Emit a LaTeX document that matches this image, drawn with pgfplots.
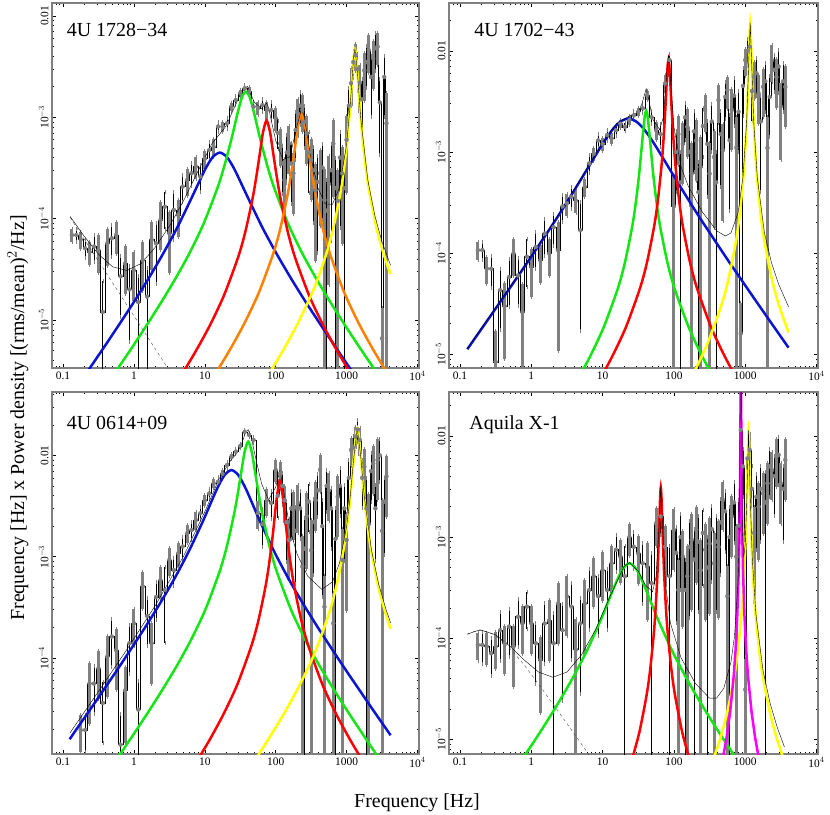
\documentclass[border=0pt]{standalone}
\usepackage{pgfplots}
\pgfplotsset{compat=1.18}
\usepackage{pgfplotstable}
\usepackage{fontspec}
\setmainfont{Liberation Serif}

\definecolor{cblue}{RGB}{10,20,210}
\definecolor{cgreen}{RGB}{20,230,20}
\definecolor{cred}{RGB}{255,0,0}
\definecolor{corange}{RGB}{255,128,0}
\definecolor{cyellow}{RGB}{255,255,0}
\definecolor{cmag}{RGB}{255,0,255}
\definecolor{barg}{RGB}{128,128,128}

% power spectra: bin centre, nu*P, relative error
\pgfplotstableread{
x y e
0.1334 6.9e-5 0.15
0.1540 6.9e-5 0.15
0.1778 6.2e-5 0.2
0.2054 5.1e-5 0.2
0.2371 4.7e-5 0.25
0.2738 5.3e-5 0.3
0.3162 4.9e-5 0.4
0.3652 1.2e-5 0.999
0.4217 5.7e-5 0.4
0.4870 6.4e-5 0.35
0.5623 6.9e-5 0.35
0.6494 2.7e-5 0.6
0.7499 3.6e-5 0.5
0.8660 2.0e-5 0.7
1.000 3.1e-5 0.5
1.155 1.5e-5 0.8
1.334 3.9e-5 0.5
1.540 1.7e-5 0.9
1.778 6.2e-5 0.5
2.054 5.7e-5 0.6
2.371 9.7e-5 0.5
2.738 1.31e-4 0.4
3.162 7.2e-5 0.6
3.652 1.22e-4 0.5
4.217 1.09e-4 0.4
4.870 2.07e-4 0.3
5.623 2.4e-4 0.3
6.494 2.8e-4 0.25
7.499 3.26e-4 0.25
8.660 2.6e-4 0.3
10.00 3.9e-4 0.2
11.55 4.75e-4 0.2
13.34 5.1e-4 0.2
15.40 8.1e-4 0.12
17.78 8.1e-4 0.12
20.54 8.7e-4 0.12
23.71 1.27e-3 0.1
27.38 1.48e-3 0.1
31.62 1.73e-3 0.08
36.52 1.93e-3 0.08
42.17 1.79e-3 0.1
48.70 1.27e-3 0.12
56.23 1.23e-3 0.15
64.94 1.32e-3 0.15
74.99 1.18e-3 0.2
86.60 1.18e-3 0.2
100.0 9.8e-4 0.25
107.5 7.0e-4 0.3
115.5 5.5e-4 0.4
124.1 3.5e-4 0.5
133.4 2.4e-4 0.6
143.3 4.5e-4 0.5
154.0 5.5e-4 0.5
165.5 3.5e-4 0.6
177.8 2.8e-4 0.6
191.1 7.5e-4 0.5
205.4 1.09e-3 0.4
220.7 1.3e-3 0.35
237.1 1.18e-3 0.4
254.8 9.0e-4 0.45
273.8 6.9e-4 0.5
294.2 4.5e-4 0.6
316.2 3.8e-4 0.6
339.8 3.0e-4 0.7
365.2 1.9e-4 0.8
392.4 2.3e-4 0.8
421.7 2.8e-4 0.7
453.2 3.2e-4 0.7
487.0 1.53e-4 0.999
523.3 1.2e-4 0.999
562.3 2.2e-4 0.9
604.3 3.0e-4 0.8
649.4 5.5e-4 0.7
697.8 2.0e-4 0.999
749.9 1.5e-4 0.999
805.9 4.0e-4 0.8
866.0 2.8e-4 0.8
930.6 2.0e-4 0.999
1000 6.0e-4 0.7
1075 1.3e-3 0.5
1155 2.17e-3 0.4
1241 3.5e-3 0.3
1334 4.1e-3 0.3
1433 3.0e-3 0.4
1540 2.2e-3 0.5
1655 1.5e-3 0.6
1778 2.9e-3 0.5
1911 3.5e-3 0.45
2054 4.6e-3 0.4
2207 2.5e-3 0.6
2371 3.8e-3 0.5
2548 4.8e-3 0.4
2738 5.0e-3 0.35
2942 1.4e-3 0.7
3162 6.6e-6 0.999
3398 2.5e-3 0.6
3652 8.7e-4 0.999
}\dA

\pgfplotstableread{
x y e
0.1778 1.07e-4 0.2
0.2054 1.07e-4 0.2
0.2371 7.0e-5 0.3
0.2738 7.0e-5 0.35
0.3162 8.4e-6 0.999
0.3652 4.3e-5 0.6
0.4217 3.0e-5 0.7
0.4870 5.8e-5 0.5
0.5623 9.9e-5 0.4
0.6494 6.0e-5 0.5
0.7499 2.6e-5 0.9
0.8660 9.2e-5 0.5
1.000 7.3e-5 0.5
1.155 1.15e-4 0.4
1.334 8.5e-5 0.4
1.540 1.56e-4 0.4
1.778 9.9e-5 0.4
2.054 1.8e-4 0.35
2.371 1.07e-4 0.9
2.738 2.9e-4 0.3
3.162 3.1e-4 0.25
3.652 3.6e-4 0.25
4.217 3.3e-4 0.25
4.870 1.68e-4 0.9
5.623 4.5e-4 0.2
6.494 7.7e-4 0.2
7.499 9.6e-4 0.15
8.660 1.3e-3 0.15
10.00 1.2e-3 0.15
11.55 1.47e-3 0.12
13.34 1.36e-3 0.12
15.40 1.64e-3 0.12
17.78 1.9e-3 0.1
20.54 1.77e-3 0.1
23.71 2.06e-3 0.1
27.38 2.3e-3 0.1
31.62 2.5e-3 0.1
36.52 2.7e-3 0.1
42.17 3.64e-3 0.1
48.70 2.2e-3 0.15
56.23 1.64e-3 0.2
64.94 1.5e-3 0.25
74.99 4.75e-3 0.2
86.60 8.1e-3 0.15
100.0 2.9e-4 0.999
107.5 1.0e-3 0.6
115.5 1.5e-3 0.5
124.1 5.0e-4 0.999
133.4 1.2e-3 0.6
143.3 2.2e-3 0.4
154.0 1.77e-3 0.5
165.5 1.0e-3 0.7
177.8 6.1e-4 0.999
191.1 1.6e-3 0.6
205.4 1.3e-3 0.6
220.7 4.0e-4 0.999
237.1 7.1e-4 0.999
254.8 1.8e-3 0.5
273.8 2.6e-3 0.4
294.2 1.2e-3 0.7
316.2 6.1e-4 0.999
339.8 2.0e-3 0.5
365.2 8.9e-4 0.8
392.4 5.0e-4 0.999
421.7 3.25e-3 0.4
453.2 1.5e-3 0.7
487.0 1.04e-3 0.8
523.3 3.5e-3 0.4
562.3 4.1e-3 0.35
604.3 1.3e-3 0.8
649.4 2.6e-3 0.6
697.8 3.6e-3 0.5
749.9 1.1e-3 0.999
805.9 2.5e-3 0.6
866.0 1.6e-5 0.999
930.6 4.5e-3 0.5
1000 8.1e-3 0.3
1075 1.0e-2 0.3
1155 1.1e-2 0.25
1241 4.0e-3 0.5
1334 5.5e-3 0.4
1433 6.0e-3 0.4
1540 3.8e-3 0.5
1655 2.0e-3 0.8
1778 4.4e-3 0.5
1911 5.0e-3 0.5
2054 1.1e-3 0.999
2207 3.5e-3 0.6
2371 8.1e-3 0.4
2548 6.5e-3 0.4
2738 5.5e-3 0.5
2942 7.0e-3 0.45
3162 2.8e-3 0.7
3398 5.0e-3 0.5
3652 4.4e-3 0.6
}\dB

\pgfplotstableread{
x y e
0.1778 1.95e-5 0.4
0.2054 1.95e-5 0.4
0.2371 5.6e-5 0.6
0.2738 5.6e-5 0.5
0.3162 7.9e-5 0.5
0.3652 3.6e-5 0.6
0.4217 1.03e-4 0.6
0.4870 1.63e-4 0.5
0.5623 1.2e-4 0.6
0.6494 1.4e-5 0.999
0.7499 4.8e-5 0.7
0.8660 1.4e-4 0.5
1.000 2.2e-4 0.4
1.155 3.1e-5 0.9
1.334 5.1e-4 0.4
1.540 2.6e-4 0.5
1.778 1.4e-4 0.6
2.054 4.0e-4 0.4
2.371 5.9e-4 0.35
2.738 4.7e-4 0.7
3.162 9.3e-4 0.3
3.652 7.4e-4 0.3
4.217 1.08e-3 0.25
4.870 1.26e-3 0.25
5.623 1.7e-3 0.2
6.494 1.83e-3 0.2
7.499 2.3e-3 0.2
8.660 2.68e-3 0.15
10.00 3.6e-3 0.12
11.55 4.2e-3 0.12
13.34 5.3e-3 0.1
15.40 5.5e-3 0.1
17.78 6.6e-3 0.08
20.54 8.0e-3 0.08
23.71 9.7e-3 0.06
27.38 1.09e-2 0.06
31.62 1.24e-2 0.05
36.52 1.71e-2 0.05
42.17 1.59e-2 0.05
48.70 1.42e-2 0.06
56.23 2.7e-3 0.3
64.94 2.1e-3 0.4
74.99 3.6e-3 0.3
86.60 3.4e-3 0.3
100.0 7.2e-3 0.25
107.5 4.0e-3 0.4
115.5 6.6e-3 0.3
124.1 5.0e-3 0.35
133.4 3.6e-3 0.4
143.3 2.2e-3 0.6
154.0 1.46e-3 0.6
165.5 3.0e-3 0.5
177.8 2.9e-3 0.5
191.1 1.8e-3 0.7
205.4 3.4e-3 0.5
220.7 3.0e-3 0.5
237.1 8.0e-4 0.999
254.8 1.2e-3 0.999
273.8 2.5e-3 0.7
294.2 3.5e-3 0.5
316.2 1.16e-3 0.999
339.8 2.2e-3 0.7
365.2 3.6e-3 0.5
392.4 4.5e-3 0.45
421.7 7.2e-3 0.4
453.2 2.0e-3 0.8
487.0 3.2e-4 0.999
523.3 5.0e-3 0.45
562.3 4.5e-3 0.5
604.3 3.0e-3 0.6
649.4 2.2e-4 0.999
697.8 1.5e-3 0.999
749.9 3.9e-3 0.6
805.9 5.0e-3 0.5
866.0 9.3e-4 0.999
930.6 3.0e-3 0.7
1000 1.46e-3 0.8
1075 6.0e-3 0.5
1155 1.13e-2 0.3
1241 1.2e-2 0.3
1334 1.53e-2 0.25
1433 1.8e-2 0.25
1540 1.42e-2 0.3
1655 6.0e-3 0.5
1778 7.7e-3 0.5
1911 3.0e-3 0.999
2054 2.1e-3 0.999
2207 7.0e-3 0.5
2371 8.3e-3 0.5
2548 3.0e-3 0.7
2738 9.0e-3 0.6
2942 1.0e-2 0.45
3162 1.8e-3 0.999
3398 3.5e-3 0.7
3652 6.2e-3 0.6
}\dC

\pgfplotstableread{
x y e
0.1778 8.6e-5 0.3
0.2054 8.6e-5 0.35
0.2371 8.3e-5 0.35
0.2738 7.1e-5 0.4
0.3162 8.3e-5 0.4
0.3652 1.2e-4 0.5
0.4217 8.9e-5 0.5
0.4870 1.3e-4 0.5
0.5623 8.3e-5 0.6
0.6494 1.63e-4 0.5
0.7499 1.4e-4 0.5
0.8660 2.05e-4 0.4
1.000 1.4e-4 0.5
1.155 8.9e-5 0.6
1.334 6.1e-5 0.7
1.540 1.4e-4 0.6
1.778 1.5e-4 0.6
2.054 8.9e-5 0.999
2.371 2.2e-4 0.6
2.738 1.2e-4 0.8
3.162 2.6e-4 0.6
3.652 2.05e-4 0.7
4.217 7.7e-5 0.999
4.870 1.4e-4 0.8
5.623 2.2e-4 0.7
6.494 3.0e-4 0.6
7.499 4.1e-4 0.5
8.660 2.6e-4 0.6
10.00 4.7e-4 0.5
11.55 3.0e-4 0.6
13.34 5.5e-4 0.5
15.40 7.5e-4 0.4
17.78 6.4e-4 0.45
20.54 4.1e-4 0.999
23.71 1.0e-3 0.35
27.38 8.0e-4 0.4
31.62 6.9e-4 0.5
36.52 5.5e-4 0.6
42.17 5.1e-4 0.7
48.70 3.5e-4 0.999
56.23 1.37e-3 0.4
64.94 1.6e-3 0.35
74.99 8.0e-4 0.6
86.60 4.1e-4 0.999
100.0 1.18e-3 0.6
107.5 7.0e-4 0.8
115.5 3.0e-4 0.999
124.1 1.0e-3 0.7
133.4 6.4e-4 0.8
143.3 3.0e-4 0.999
154.0 4.1e-4 0.999
165.5 8.0e-4 0.8
177.8 9.4e-4 0.8
191.1 6.0e-4 0.999
205.4 1.18e-3 0.7
220.7 9.0e-4 0.8
237.1 4.7e-4 0.999
254.8 1.1e-3 0.7
273.8 7.5e-4 0.8
294.2 5.0e-4 0.999
316.2 8.6e-4 0.8
339.8 1.2e-3 0.7
365.2 5.5e-4 0.999
392.4 9.0e-4 0.8
421.7 8.0e-4 0.8
453.2 1.4e-3 0.7
487.0 2.33e-3 0.5
523.3 1.8e-3 0.6
562.3 2.6e-4 0.999
604.3 1.0e-3 0.999
649.4 1.6e-3 0.6
697.8 2.2e-3 0.6
749.9 6.4e-4 0.999
805.9 1.3e-3 0.8
866.0 1.15e-2 0.3
930.6 5.0e-3 0.5
1000 3.1e-5 0.999
1075 6.0e-3 0.5
1155 7.3e-3 0.5
1241 3.0e-3 0.7
1334 1.1e-3 0.8
1433 2.5e-3 0.7
1540 2.0e-3 0.7
1655 3.0e-3 0.7
1778 2.7e-3 0.6
1911 2.2e-3 0.999
2054 3.4e-3 0.6
2207 5.0e-3 0.5
2371 4.6e-3 0.5
2548 4.0e-3 0.6
2738 6.2e-3 0.5
2942 6.5e-3 0.5
3162 3.4e-3 0.6
3398 3.0e-3 0.7
3652 5.8e-3 0.6
}\dD

\pgfplotsset{
  every axis/.append style={
    xmode=log, ymode=log, scale only axis,
    xmin=0.07, xmax=10500,
    xtick={0.1,1,10,100,1000,10000},
    xticklabels={0.1,1,10,100,1000,10$^4$},
    minor xtick={0.08,0.09,0.2,0.3,0.4,0.5,0.6,0.7,0.8,0.9,2,3,4,5,6,7,8,9,20,30,40,50,60,70,80,90,200,300,400,500,600,700,800,900,2000,3000,4000,5000,6000,7000,8000,9000},
    minor ytick={2e-6,3e-6,4e-6,5e-6,6e-6,7e-6,8e-6,9e-6,2e-5,3e-5,4e-5,5e-5,6e-5,7e-5,8e-5,9e-5,2e-4,3e-4,4e-4,5e-4,6e-4,7e-4,8e-4,9e-4,2e-3,3e-3,4e-3,5e-3,6e-3,7e-3,8e-3,9e-3,2e-2,3e-2,4e-2},
    axis line style={draw=barg, line width=1.8bp},
    tick style={black, line width=0.5bp},
    major tick length=4bp, minor tick length=2bp,
    tick align=inside,
    ticklabel style={font=\fontsize{11.5}{13}\selectfont},
    yticklabel style={rotate=90, anchor=south},
  },
}
\tikzset{plabel/.style={anchor=north west, inner sep=0pt, font=\fontsize{20}{24}\selectfont}}

\begin{document}
\begin{tikzpicture}
\useasboundingbox (0,0) rectangle (830bp,815bp);

% ---------------- 4U 1728-34
\begin{axis}[at={(52bp,447bp)}, anchor=south west,
  width=367bp, height=365bp, ymin=3.36e-6, ymax=0.0134,
  ytick={1e-5,1e-4,1e-3,1e-2},
  yticklabels={10$^{-5}$,10$^{-4}$,10$^{-3}$,0.01}]
\addplot[const plot mark mid, black, line width=0.5bp, mark=none] table[x=x,y=y] {\dA};
\addplot[barg, only marks, mark=none, y filter/.code={\ifodd\coordindex\def\pgfmathresult{}\fi},
  error bars/.cd, y dir=both, y explicit relative,
  error bar style={draw=barg, line width=3bp},
  error mark options={draw=barg, line width=0.7bp, mark size=2bp}]
  table[x=x,y=y,y error=e] {\dA};
\addplot[barg, only marks, mark=none, y filter/.code={\ifodd\coordindex\else\def\pgfmathresult{}\fi},
  error bars/.cd, y dir=both, y explicit relative,
  error bar style={draw=black, line width=0.9bp},
  error mark options={draw=barg, line width=0.7bp, mark size=2bp}]
  table[x=x,y=y,y error=e] {\dA};
\addplot[cblue, line width=2.5bp, smooth, tension=0.45, mark=none] coordinates {(0.1629,2.27e-6) (0.2582,3.63e-6) (0.4093,5.83e-6) (0.6486,9.46e-6) (1.028,1.55e-5) (1.629,2.60e-5) (2.582,4.51e-5) (4.093,8.18e-5) (6.486,1.59e-4) (8.166,2.24e-4) (10.28,3.13e-4) (12.94,4.05e-4) (16.29,4.48e-4) (20.51,4.05e-4) (25.82,3.13e-4) (32.51,2.24e-4) (40.93,1.59e-4) (64.86,8.18e-5) (102.8,4.51e-5) (162.9,2.60e-5) (258.2,1.55e-5) (409.3,9.46e-6) (648.6,5.83e-6) (1028,3.63e-6) (1629,2.27e-6)};
\addplot[cgreen, line width=2.5bp, smooth, tension=0.45, mark=none] coordinates {(0.3793,2.10e-6) (0.6012,3.37e-6) (0.9528,5.42e-6) (1.510,8.85e-6) (2.393,1.47e-5) (3.793,2.51e-5) (6.012,4.49e-5) (9.528,8.77e-5) (15.10,2.01e-4) (19.01,3.37e-4) (23.93,6.22e-4) (26.85,8.75e-4) (30.13,1.22e-3) (33.81,1.61e-3) (37.93,1.79e-3) (42.56,1.61e-3) (47.75,1.22e-3) (53.58,8.75e-4) (60.12,6.22e-4) (75.68,3.37e-4) (95.28,2.01e-4) (151.0,8.77e-5) (239.3,4.49e-5) (379.3,2.51e-5) (601.2,1.47e-5) (952.8,8.85e-6) (1510,5.42e-6) (2393,3.37e-6) (3793,2.10e-6)};
\addplot[cred, line width=2.5bp, smooth, tension=0.45, mark=none] coordinates {(4.688,2.86e-6) (7.430,4.90e-6) (11.78,8.83e-6) (18.66,1.75e-5) (29.58,4.18e-5) (37.24,7.38e-5) (46.88,1.54e-4) (52.60,2.44e-4) (59.02,4.14e-4) (66.22,7.08e-4) (74.30,9.27e-4) (83.37,7.08e-4) (93.54,4.14e-4) (104.95,2.44e-4) (117.8,1.54e-4) (148.3,7.38e-5) (186.6,4.18e-5) (295.8,1.75e-5) (468.8,8.83e-6) (743.0,4.90e-6) (1178,2.86e-6)};
\addplot[corange, line width=2.5bp, smooth, tension=0.45, mark=none] coordinates {(14.62,3.06e-6) (23.17,5.24e-6) (36.73,9.46e-6) (58.21,1.88e-5) (92.26,4.50e-5) (116.1,7.96e-5) (146.2,1.675e-4) (164.1,2.68e-4) (184.1,4.62e-4) (206.5,8.17e-4) (231.7,1.094e-3) (260.0,8.17e-4) (291.7,4.62e-4) (327.3,2.68e-4) (367.3,1.675e-4) (462.4,7.96e-5) (582.1,4.50e-5) (922.6,1.88e-5) (1462,9.46e-6) (2317,5.24e-6) (3673,3.06e-6)};
\addplot[cyellow, line width=2.5bp, smooth, tension=0.45, mark=none] coordinates {(82.8,3.03e-6) (131,5.20e-6) (208,9.42e-6) (330,1.88e-5) (415,2.84e-5) (522,4.59e-5) (658,8.36e-5) (828,1.875e-4) (929,3.26e-4) (1042,6.78e-4) (1169,1.90e-3) (1253,3.79e-3) (1312,4.69e-3) (1374,3.79e-3) (1472,1.90e-3) (1652,6.78e-4) (1854,3.26e-4) (2080,1.875e-4) (2618,8.36e-5) (3296,4.59e-5) (4150,2.84e-5)};
\addplot[black!70, line width=0.4bp, dashed, smooth, mark=none] coordinates {(0.1259,1.03e-4) (0.1995,6.27e-5) (0.3162,3.81e-5) (0.5012,2.32e-5) (0.7943,1.41e-5) (1.259,8.57e-6) (1.995,5.21e-6) (3.162,3.17e-6)};
\addplot[black, line width=0.4bp, mark=none] coordinates {(0.1259,1.05e-4) (0.1995,6.7e-5) (0.3162,4.45e-5) (0.5012,3.35e-5) (0.7943,3.08e-5) (1.259,3.6e-5) (1.995,5.2e-5) (3.162,8.4e-5) (5.012,1.50e-4) (7.943,2.9e-4) (12.59,5.48e-4) (19.95,8.18e-4) (31.62,1.68e-3) (39.81,2.02e-3) (50.12,1.40e-3) (63.10,1.22e-3) (74.30,1.38e-3) (79.43,1.24e-3) (89.13,8.5e-4) (100.0,5.89e-4) (125.9,3.82e-4) (158.5,4.07e-4) (199.5,8.18e-4) (231.7,1.2e-3) (251.2,1.03e-3) (316.2,3.9e-4) (398.1,1.97e-4) (501.2,1.40e-4) (631.0,1.38e-4) (794.3,2.03e-4) (1000,5.4e-4) (1122,1.29e-3) (1259,3.97e-3) (1312,4.72e-3) (1413,2.95e-3) (1585,9.62e-4) (1995,2.39e-4) (2512,1.06e-4) (3162,5.9e-5) (4169,3.47e-5)};
\node[plabel] at (rel axis cs:0.040,0.945) {4U 1728−34};
\end{axis}

% ---------------- 4U 1702-43
\begin{axis}[at={(449bp,447bp)}, anchor=south west,
  width=369bp, height=365bp, ymin=7.3e-6, ymax=0.0297,
  ytick={1e-5,1e-4,1e-3,1e-2},
  yticklabels={10$^{-5}$,10$^{-4}$,10$^{-3}$,0.01}]
\addplot[const plot mark mid, black, line width=0.5bp, mark=none] table[x=x,y=y] {\dB};
\addplot[barg, only marks, mark=none, y filter/.code={\ifodd\coordindex\def\pgfmathresult{}\fi},
  error bars/.cd, y dir=both, y explicit relative,
  error bar style={draw=barg, line width=3bp},
  error mark options={draw=barg, line width=0.7bp, mark size=2bp}]
  table[x=x,y=y,y error=e] {\dB};
\addplot[barg, only marks, mark=none, y filter/.code={\ifodd\coordindex\else\def\pgfmathresult{}\fi},
  error bars/.cd, y dir=both, y explicit relative,
  error bar style={draw=black, line width=0.9bp},
  error mark options={draw=barg, line width=0.7bp, mark size=2bp}]
  table[x=x,y=y,y error=e] {\dB};
\addplot[cblue, line width=2.5bp, smooth, tension=0.45, mark=none] coordinates {(0.1265,1.12e-5) (0.2301,2.05e-5) (0.3648,3.27e-5) (0.5781,5.24e-5) (0.9162,8.41e-5) (1.452,1.37e-4) (2.301,2.24e-4) (3.648,3.75e-4) (5.781,6.38e-4) (9.162,1.09e-3) (11.53,1.40e-3) (14.52,1.74e-3) (18.28,2.02e-3) (23.01,2.14e-3) (28.97,2.02e-3) (36.48,1.74e-3) (45.92,1.40e-3) (57.81,1.09e-3) (91.62,6.38e-4) (145.2,3.75e-4) (230.1,2.24e-4) (364.8,1.37e-4) (578.1,8.41e-5) (916.2,5.24e-5) (1452,3.27e-5) (2301,2.05e-5) (3648,1.29e-5) (4055,1.16e-5)};
\addplot[cgreen, line width=2.5bp, smooth, tension=0.45, mark=none] coordinates {(4.083,5.04e-6) (6.471,9.10e-6) (10.26,1.82e-5) (16.26,4.41e-5) (20.46,7.96e-5) (25.76,1.76e-4) (28.91,2.99e-4) (32.43,5.90e-4) (36.39,1.40e-3) (38.99,2.25e-3) (40.83,2.55e-3) (42.76,2.25e-3) (45.81,1.40e-3) (51.40,5.90e-4) (57.68,2.99e-4) (64.71,1.76e-4) (81.47,7.96e-5) (102.6,4.41e-5) (162.6,1.82e-5) (257.6,9.10e-6) (408.3,5.04e-6)};
\addplot[cred, line width=2.5bp, smooth, tension=0.45, mark=none] coordinates {(8.395,5.06e-6) (13.30,9.17e-6) (21.09,1.83e-5) (33.42,4.48e-5) (42.07,8.18e-5) (52.97,1.86e-4) (59.43,3.27e-4) (66.68,7.05e-4) (70.63,1.17e-3) (74.82,2.24e-3) (78.34,4.20e-3) (80.17,5.75e-3) (82.04,7.41e-3) (83.95,8.20e-3) (85.90,7.41e-3) (87.90,5.75e-3) (89.95,4.20e-3) (94.19,2.24e-3) (99.77,1.17e-3) (105.7,7.05e-4) (118.6,3.27e-4) (133.0,1.86e-4) (167.5,8.18e-5) (210.9,4.48e-5) (334.2,1.83e-5) (529.7,9.17e-6) (839.5,5.06e-6)};
\addplot[cyellow, line width=2.5bp, smooth, tension=0.45, mark=none] coordinates {(186.2,6.34e-6) (295.1,1.27e-5) (467.7,3.10e-5) (588.8,5.69e-5) (741.3,1.30e-4) (831.8,2.32e-4) (933.3,5.18e-4) (988.5,9.02e-4) (1047,1.92e-3) (1096,4.52e-3) (1122,7.82e-3) (1148,1.40e-2) (1175,1.89e-2) (1202,1.40e-2) (1230,7.82e-3) (1259,4.52e-3) (1318,1.92e-3) (1396,9.02e-4) (1479,5.18e-4) (1660,2.32e-4) (1862,1.30e-4) (2344,5.69e-5) (2951,3.10e-5) (4055,1.63e-5)};
\addplot[black, line width=0.4bp, mark=none] coordinates {(0.1259,1.13e-5) (0.3162,2.88e-5) (0.7943,7.4e-5) (1.995,1.95e-4) (5.012,5.5e-4) (10.00,1.23e-3) (15.85,1.92e-3) (25.12,2.31e-3) (31.62,2.47e-3) (35.48,2.98e-3) (40.83,4.21e-3) (44.67,3.24e-3) (50.12,2.13e-3) (63.10,1.66e-3) (70.79,2.19e-3) (79.43,5.93e-3) (83.95,8.98e-3) (89.13,5.5e-3) (100.0,1.77e-3) (125.9,7.1e-4) (158.5,4.61e-4) (251.2,2.54e-4) (398.1,1.66e-4) (524.8,1.475e-4) (631.0,1.58e-4) (794.3,2.5e-4) (933.3,5.77e-4) (1047,1.97e-3) (1122,7.87e-3) (1175,1.893e-2) (1230,7.87e-3) (1318,1.965e-3) (1479,5.54e-4) (1862,1.58e-4) (2344,7.96e-5) (2951,4.9e-5) (4055,2.94e-5)};
\node[plabel] at (rel axis cs:0.068,0.945) {4U 1702−43};
\end{axis}

% ---------------- 4U 0614+09
\begin{axis}[at={(52bp,61bp)}, anchor=south west,
  width=367bp, height=362bp, ymin=1.13e-5, ymax=0.0422,
  ytick={1e-4,1e-3,1e-2},
  yticklabels={10$^{-4}$,10$^{-3}$,0.01}]
\addplot[const plot mark mid, black, line width=0.5bp, mark=none] table[x=x,y=y] {\dC};
\addplot[barg, only marks, mark=none, y filter/.code={\ifodd\coordindex\def\pgfmathresult{}\fi},
  error bars/.cd, y dir=both, y explicit relative,
  error bar style={draw=barg, line width=3bp},
  error mark options={draw=barg, line width=0.7bp, mark size=2bp}]
  table[x=x,y=y,y error=e] {\dC};
\addplot[barg, only marks, mark=none, y filter/.code={\ifodd\coordindex\else\def\pgfmathresult{}\fi},
  error bars/.cd, y dir=both, y explicit relative,
  error bar style={draw=black, line width=0.9bp},
  error mark options={draw=barg, line width=0.7bp, mark size=2bp}]
  table[x=x,y=y,y error=e] {\dC};
\addplot[cblue, line width=2.5bp, smooth, tension=0.45, mark=none] coordinates {(0.1242,1.58e-5) (0.1500,1.92e-5) (0.2377,3.05e-5) (0.3767,4.89e-5) (0.5970,7.85e-5) (0.9462,1.28e-4) (1.500,2.10e-4) (2.377,3.53e-4) (3.767,6.15e-4) (5.970,1.135e-3) (9.462,2.26e-3) (11.91,3.28e-3) (15.00,4.73e-3) (18.88,6.35e-3) (23.77,7.16e-3) (29.92,6.35e-3) (37.67,4.73e-3) (47.42,3.28e-3) (59.70,2.26e-3) (94.62,1.135e-3) (150.0,6.15e-4) (237.7,3.53e-4) (376.7,2.10e-4) (597.0,1.28e-4) (946.2,7.85e-5) (1500,4.89e-5) (2377,3.05e-5) (3767,1.92e-5) (4178,1.73e-5)};
\addplot[cgreen, line width=2.5bp, smooth, tension=0.45, mark=none] coordinates {(0.4093,7.1e-6) (0.6486,1.14e-5) (1.028,1.84e-5) (1.629,3.00e-5) (2.582,4.99e-5) (4.093,8.53e-5) (6.486,1.54e-4) (10.28,3.05e-4) (16.29,7.24e-4) (20.51,1.27e-3) (25.82,2.61e-3) (28.97,4.06e-3) (32.51,6.68e-3) (36.48,1.084e-2) (40.93,1.365e-2) (45.92,1.084e-2) (51.52,6.68e-3) (57.81,4.06e-3) (64.86,2.61e-3) (81.66,1.27e-3) (102.8,7.24e-4) (162.9,3.05e-4) (258.2,1.54e-4) (409.3,8.53e-5) (648.6,4.99e-5) (1028,3.00e-5) (1629,1.84e-5) (2582,1.14e-5) (4093,7.1e-6)};
\addplot[cred, line width=2.5bp, smooth, tension=0.45, mark=none] coordinates {(7.228,8.87e-6) (11.46,1.52e-5) (18.16,2.75e-5) (28.77,5.48e-5) (45.60,1.33e-4) (57.41,2.39e-4) (72.28,5.20e-4) (81.10,8.69e-4) (90.99,1.64e-3) (102.1,3.51e-3) (114.6,5.62e-3) (128.5,3.51e-3) (144.2,1.64e-3) (161.8,8.69e-4) (181.6,5.20e-4) (228.6,2.39e-4) (287.7,1.33e-4) (456.0,5.48e-5) (722.8,2.75e-5) (1146,1.52e-5) (1816,8.87e-6)};
\addplot[cyellow, line width=2.5bp, smooth, tension=0.45, mark=none] coordinates {(56.36,1.09e-5) (89.33,1.82e-5) (141.6,3.11e-5) (224.4,5.64e-5) (355.6,1.12e-4) (563.6,2.74e-4) (709.6,4.95e-4) (893.3,1.10e-3) (1002,1.88e-3) (1125,3.78e-3) (1262,9.38e-3) (1352,1.60e-2) (1416,1.845e-2) (1483,1.60e-2) (1589,9.38e-3) (1782,3.78e-3) (2000,1.88e-3) (2244,1.10e-3) (2825,4.95e-4) (3556,2.74e-4) (4178,1.94e-4)};
\addplot[black, line width=0.4bp, mark=none] coordinates {(0.1259,1.83e-5) (0.3162,4.67e-5) (0.7943,1.21e-4) (1.995,3.28e-4) (5.012,1.01e-3) (10.00,2.78e-3) (15.85,5.83e-3) (23.77,9.17e-3) (28.18,1.04e-2) (33.11,1.30e-2) (37.15,1.645e-2) (40.93,1.79e-2) (45.71,1.46e-2) (50.12,1.07e-2) (63.10,5.27e-3) (79.43,3.63e-3) (100.0,4.86e-3) (114.6,7.09e-3) (131.8,4.16e-3) (158.5,1.89e-3) (199.5,1.07e-3) (281.8,6.44e-4) (446.7,4.76e-4) (631.0,5.64e-4) (794.3,8.67e-4) (1000,1.98e-3) (1122,3.82e-3) (1259,9.29e-3) (1416,1.854e-2) (1585,9.64e-3) (1778,3.91e-3) (2239,1.17e-3) (2818,5.43e-4) (3548,3.12e-4) (4178,2.22e-4)};
\node[plabel] at (rel axis cs:0.040,0.934) {4U 0614+09};
\end{axis}

% ---------------- Aquila X-1
\begin{axis}[at={(449bp,61bp)}, anchor=south west,
  width=369bp, height=362bp, ymin=7.16e-6, ymax=0.0272,
  ytick={1e-5,1e-4,1e-3,1e-2},
  yticklabels={10$^{-5}$,10$^{-4}$,10$^{-3}$,0.01}]
\addplot[const plot mark mid, black, line width=0.5bp, mark=none] table[x=x,y=y] {\dD};
\addplot[barg, only marks, mark=none, y filter/.code={\ifodd\coordindex\def\pgfmathresult{}\fi},
  error bars/.cd, y dir=both, y explicit relative,
  error bar style={draw=barg, line width=3bp},
  error mark options={draw=barg, line width=0.7bp, mark size=2bp}]
  table[x=x,y=y,y error=e] {\dD};
\addplot[barg, only marks, mark=none, y filter/.code={\ifodd\coordindex\else\def\pgfmathresult{}\fi},
  error bars/.cd, y dir=both, y explicit relative,
  error bar style={draw=black, line width=0.9bp},
  error mark options={draw=barg, line width=0.7bp, mark size=2bp}]
  table[x=x,y=y,y error=e] {\dD};
\addplot[cgreen, line width=2.5bp, smooth, tension=0.45, mark=none] coordinates {(0.5984,5.05e-6) (0.9484,8.20e-6) (1.503,1.35e-5) (2.382,2.28e-5) (3.776,4.00e-5) (5.984,7.46e-5) (9.484,1.53e-4) (11.94,2.28e-4) (15.03,3.40e-4) (18.92,4.78e-4) (23.82,5.51e-4) (29.99,4.78e-4) (37.76,3.40e-4) (47.53,2.28e-4) (59.84,1.53e-4) (94.84,7.46e-5) (150.3,4.00e-5) (238.2,2.28e-5) (377.6,1.35e-5) (598.4,8.20e-6) (948.4,5.05e-6)};
\addplot[cred, line width=2.5bp, smooth, tension=0.45, mark=none] coordinates {(26.06,6.47e-6) (32.81,1.18e-5) (41.30,2.71e-5) (46.34,4.82e-5) (52.00,1.07e-4) (55.08,1.85e-4) (58.34,3.89e-4) (61.09,8.85e-4) (62.52,1.47e-3) (63.97,2.43e-3) (65.46,3.10e-3) (66.99,2.43e-3) (68.55,1.47e-3) (70.15,8.85e-4) (73.45,3.89e-4) (77.80,1.85e-4) (82.41,1.07e-4) (92.47,4.82e-5) (103.8,2.71e-5) (130.6,1.18e-5) (164.4,6.47e-6)};
\addplot[cyellow, line width=2.5bp, smooth, tension=0.45, mark=none] coordinates {(352.4,6.2e-6) (443.6,1.0e-5) (558.5,1.84e-5) (703.1,4.22e-5) (788.9,7.55e-5) (885.1,1.69e-4) (937.6,2.98e-4) (993.1,6.50e-4) (1040,1.64e-3) (1064,3.13e-3) (1089,6.82e-3) (1102,9.70e-3) (1114,1.13e-2) (1127,9.70e-3) (1140,6.82e-3) (1167,3.13e-3) (1194,1.64e-3) (1250,6.50e-4) (1324,2.98e-4) (1403,1.69e-4) (1574,7.55e-5) (1766,4.22e-5) (2223,1.84e-5) (2799,1.0e-5) (3524,6.2e-6)};
\addplot[cmag, line width=2.5bp, mark=none] coordinates {(488.7,6.6e-6) (548.3,1.04e-5) (615.2,1.87e-5) (690.3,4.23e-5) (731.2,7.52e-5) (774.5,1.70e-4) (811.0,4.71e-4) (829.9,1.06e-3) (839.5,1.88e-3) (849.2,4.21e-3) (854.1,7.43e-3) (859.0,1.642e-2) (863.0,4.31e-2) (865.0,8.75e-2) (867.0,0.2296) (869.0,0.5) (871.0,0.2296) (873.0,8.75e-2) (875.0,4.31e-2) (879.1,1.642e-2) (884.1,7.43e-3) (889.2,4.21e-3) (899.5,1.88e-3) (910.0,1.06e-3) (931.2,4.71e-4) (975.0,1.70e-4) (1032.8,7.52e-5) (1094.0,4.23e-5) (1227.5,1.87e-5) (1377.3,1.04e-5) (1545.3,6.6e-6)};
\addplot[black!70, line width=0.4bp, dashed, smooth, mark=none] coordinates {(0.1268,1.09e-4) (0.1585,1.17e-4) (0.1910,1.19e-4) (0.2512,1.146e-4) (0.3162,1.052e-4) (0.5012,7.91e-5) (0.7943,5.41e-5) (1.259,3.52e-5) (1.995,2.25e-5) (3.162,1.43e-5) (5.012,9.04e-6) (7.943,5.71e-6)};
\addplot[black, line width=0.4bp, mark=none] coordinates {(0.1268,1.10e-4) (0.1910,1.21e-4) (0.3162,1.08e-4) (0.5012,8.33e-5) (0.7943,6.09e-5) (1.259,4.63e-5) (1.995,4.11e-5) (3.162,4.63e-5) (5.012,6.78e-5) (7.943,1.21e-4) (12.59,2.56e-4) (19.95,5.12e-4) (23.82,5.58e-4) (31.62,4.6e-4) (39.81,3.35e-4) (50.12,2.88e-4) (56.23,4.06e-4) (61.66,1.22e-3) (65.46,3.23e-3) (69.18,1.31e-3) (75.86,3.53e-4) (89.13,1.42e-4) (125.9,6.4e-5) (199.5,3.58e-5) (316.2,2.55e-5) (398.1,2.56e-5) (501.2,3.2e-5) (631.0,5.8e-5) (707.9,1.05e-4) (794.3,3.63e-4) (831.8,1.28e-3) (869.0,0.5) (912.0,1.19e-3) (955.0,6.3e-4) (1000,8.5e-4) (1047,2.03e-3) (1114,1.134e-2) (1175,2.56e-3) (1259,6.0e-4) (1413,1.73e-4) (1778,4.8e-5) (2239,2.26e-5) (2818,1.31e-5) (3548,8.4e-6)};
\node[plabel] at (rel axis cs:0.055,0.934) {Aquila X-1};
\end{axis}

\node[rotate=90, anchor=base, font=\fontsize{20}{24}\selectfont] at (24bp,397bp) {Frequency [Hz] x Power density [(rms/mean)$^2$/Hz]};
\node[anchor=base, font=\fontsize{20}{24}\selectfont] at (417bp,8bp) {Frequency [Hz]};
\end{tikzpicture}
\end{document}
